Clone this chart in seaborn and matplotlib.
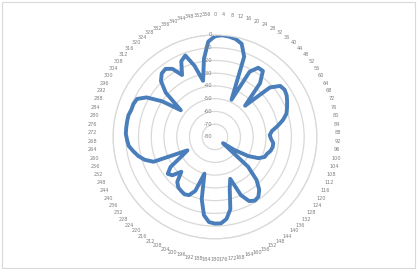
import numpy as np
import pandas as pd
import matplotlib
matplotlib.use("Agg")
import matplotlib.pyplot as plt
import matplotlib.transforms as mtransforms
from matplotlib.patches import Rectangle
import seaborn as sns

# --- datos: angulo (grados) y nivel (dB) ---
angulos = list(range(0, 360, 4))
nivel_db = [
    -1, 0, -0.5, -1.5, -4, -13, -48, -22, -16, -16,
    -25, -46, -22, -15, -14, -15, -17, -19, -21, -25,
    -30, -35, -37, -36, -34, -34, -35, -37, -38, -42,
    -50, -62, -72, -45, -33, -26, -22, -21, -23, -30,
    -45, -38, -22, -15, -12, -12, -13, -18, -30, -50,
    -35, -30, -29, -30, -31, -34, -42, -35, -33, -38,
    -50, -56, -28, -22, -18, -15, -12, -11, -10, -10,
    -10, -10, -11, -11, -12, -18, -30, -46, -28, -19,
    -15, -14, -17, -25, -15, -12, -22, -35, -18, -5,
]
anillos = [-80, -70, -60, -50, -40, -30, -20, -10, 0]
etiquetas_ang = [str(a) for a in angulos]

df = pd.DataFrame({"ang": angulos + [angulos[0]], "db": nivel_db + [nivel_db[0]]})
df["rad"] = np.deg2rad(df["ang"])

sns.set_theme(style="white")
plt.rcParams["font.family"] = ["DejaVu Sans"]

fig = plt.figure(figsize=(4.17, 2.69), dpi=100)
fig.patches.append(Rectangle((0.004, 0.004), 0.992, 0.99, transform=fig.transFigure,
                             fill=False, edgecolor="#d9d9d9", linewidth=0.8))

ax = fig.add_axes([0.271, 0.112, 0.489, 0.758], projection="polar")
ax.set_theta_zero_location("N")
ax.set_theta_direction(-1)
ax.set_ylim(-80, 0)

sns.lineplot(data=df, x="rad", y="db", sort=False, estimator=None,
             color="#4a7ebb", linewidth=2.8, ax=ax)

ax.set_xlabel("")
ax.set_ylabel("")
ax.set_yticks(anillos)
ax.set_yticklabels([])
ax.yaxis.grid(True, color="#d9d9d9", linewidth=0.9)
ax.xaxis.grid(False)
ax.spines["polar"].set_color("#d9d9d9")
ax.spines["polar"].set_linewidth(0.9)

ax.set_xticks(np.deg2rad(angulos))
ax.set_xticklabels(etiquetas_ang, fontsize=3.6, color="#7f7f7f")
ax.tick_params(axis="x", pad=2)

off = mtransforms.offset_copy(ax.transData, fig=fig, x=-2, y=0, units="points")
for v in anillos:
    ax.text(0, v, str(v), transform=off, ha="right", va="center",
            fontsize=3.8, color="#7f7f7f")

fig.savefig("out.png", dpi=100)
